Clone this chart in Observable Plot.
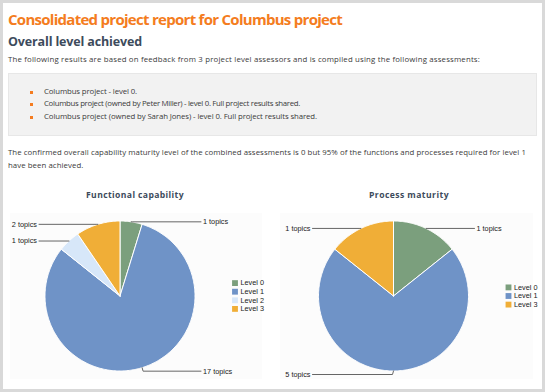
<!DOCTYPE html>
<html>
<head>
<meta charset="utf-8">
<script src="https://cdn.jsdelivr.net/npm/d3@7"></script>
<script src="https://cdn.jsdelivr.net/npm/@observablehq/plot@0.6"></script>
<style>
  html, body { margin: 0; padding: 0; }
  body { width: 545px; height: 392px; background: #d9d9d9; position: relative; overflow: hidden; font-family: "Open Sans", sans-serif; }
  #page { position: absolute; left: 3px; top: 3px; width: 539px; height: 386px; background: #fff; }
  .t { position: absolute; white-space: nowrap; line-height: 1; display: inline-block; }
  #box { position: absolute; left: 8px; top: 73px; width: 527px; height: 61px; background: #f2f2f2; border: 1px solid #e7e7e7; }
  .bullet { position: absolute; width: 3px; height: 3px; background: #f47c20; }
  .chart { position: absolute; }
  .chart svg { overflow: visible; }
</style>
</head>
<body>
<div id="page"></div>
<div id="box"></div>
<div id="root"></div>
<script>
// ---------- data ----------
const pageTitle = "Consolidated project report for Columbus project";
const sectionTitle = "Overall level achieved";
const introText = "The following results are based on feedback from 3 project level assessors and is compiled using the following assessments:";
const assessments = [
  "Columbus project - level 0.",
  "Columbus project (owned by Peter Miller) - level 0. Full project results shared.",
  "Columbus project (owned by Sarah Jones) - level 0. Full project results shared."
];
const summaryLines = [
  "The confirmed overall capability maturity level of the combined assessments is 0 but 95% of the functions and processes required for level 1",
  "have been achieved."
];
const levels = ["Level 0", "Level 1", "Level 2", "Level 3"];
const levelColors = ["#7b9f7d", "#6f93c7", "#d7e7f9", "#f0ae37"];
const chartTitles = ["Functional capability", "Process maturity"];
const functionalLevels = ["Level 0", "Level 1", "Level 2", "Level 3"];
const functionalTopics = [1, 17, 1, 2];
const processLevels = ["Level 0", "Level 1", "Level 3"];
const processTopics = [1, 5, 1];
const topicSuffix = " topics";

// ---------- text layout ----------
const root = document.getElementById("root");
function addText(txt, opts) {
  const el = document.createElement("div");
  el.className = "t";
  el.textContent = txt;
  el.style.left = opts.x + "px";
  el.style.top = (opts.baseline - 0.888 * opts.fs) + "px";
  el.style.fontSize = opts.fs + "px";
  el.style.fontWeight = opts.bold ? "700" : "400";
  el.style.color = opts.color;
  root.appendChild(el);
  if (opts.w) {
    const w = el.getBoundingClientRect().width;
    el.style.letterSpacing = ((opts.w - w) / txt.length) + "px";
  }
  if (opts.ls != null) el.style.letterSpacing = opts.ls + "px";
  if (opts.center != null) {
    const w = el.getBoundingClientRect().width;
    el.style.left = (opts.center - w / 2) + "px";
  }
  return el;
}
addText(pageTitle, {x: 8, baseline: 25.7, fs: 15, bold: true, color: "#f47c20", w: 334});
addText(sectionTitle, {x: 8, baseline: 47, fs: 12.5, bold: true, color: "#3d4b5c", w: 134});
addText(introText, {x: 8, baseline: 62.5, fs: 7.8, color: "#3a3a3a", w: 472});
const bulletBase = [94.6, 107.2, 119.8];
const bulletW = [93, 256, 273];
assessments.forEach((a, i) => {
  const b = document.createElement("div");
  b.className = "bullet";
  b.style.left = "30px";
  b.style.top = (bulletBase[i] - 4) + "px";
  root.appendChild(b);
  addText(a, {x: 44, baseline: bulletBase[i], fs: 7.8, color: "#3a3a3a", w: bulletW[i]});
});
const l1 = addText(summaryLines[0], {x: 8, baseline: 155.7, fs: 7.8, color: "#3a3a3a", w: 518});
addText(summaryLines[1], {x: 8, baseline: 168.5, fs: 7.8, color: "#3a3a3a", ls: parseFloat(l1.style.letterSpacing)});
addText(chartTitles[0], {x: 0, baseline: 199, fs: 8.6, bold: true, color: "#3d4b5c", w: 98, center: 135});
addText(chartTitles[1], {x: 0, baseline: 199, fs: 8.6, bold: true, color: "#3d4b5c", w: 80, center: 409});

// ---------- pies ----------
function pieChart(lvls, values, cfg) {
  const {width, height, cx, cy, r, bgWidth} = cfg;
  const arcs = d3.pie().sort(null).value(d => d.value)(lvls.map((l, i) => ({level: l, value: values[i]})));
  const slicePts = [];
  const leaderPts = [];
  const labels = [];
  arcs.forEach((a, idx) => {
    const lvl = a.data.level;
    slicePts.push({level: lvl, x: cx, y: cy});
    const n = Math.max(2, Math.ceil((a.endAngle - a.startAngle) / (Math.PI / 180)));
    for (let k = 0; k <= n; k++) {
      const t = a.startAngle + (a.endAngle - a.startAngle) * k / n;
      slicePts.push({level: lvl, x: cx + r * Math.sin(t), y: cy - r * Math.cos(t)});
    }
    slicePts.push({level: lvl, x: cx, y: cy});
    const m = (a.startAngle + a.endAngle) / 2;
    const ex = cx + r * Math.sin(m), ey = cy - r * Math.cos(m);
    const right = Math.sin(m) > 1e-6;
    const dir = right ? 1 : -1;
    const ly = ey + (Math.cos(m) < 0 ? 3.5 : 0);
    leaderPts.push({id: idx, x: ex, y: ey}, {id: idx, x: ex + dir * 1, y: ly}, {id: idx, x: cx + dir * 81, y: ly});
    labels.push({x: cx + dir * 83, y: ly, text: a.data.value + topicSuffix, right});
  });
  const legend = lvls.map((l, i) => ({level: l, y: cy + (i - (lvls.length - 1) / 2) * 8.6}));
  return Plot.plot({
    width, height, margin: 0,
    x: {domain: [0, width], range: [0, width], axis: null},
    y: {domain: [0, height], range: [0, height], axis: null},
    color: {domain: levels, range: levelColors},
    style: {background: "transparent", fontFamily: "'Liberation Sans', Arial, sans-serif", overflow: "visible"},
    marks: [
      Plot.rect([{x1: 0, x2: bgWidth, y1: 0, y2: height}], {x1: "x1", x2: "x2", y1: "y1", y2: "y2", fill: "#fcfcfc"}),
      Plot.line(slicePts, {x: "x", y: "y", z: "level", fill: "level", stroke: "white", strokeWidth: 1, strokeLinejoin: "round"}),
      Plot.line(leaderPts, {x: "x", y: "y", z: "id", stroke: "#666", strokeWidth: 1}),
      Plot.text(labels.filter(d => d.right), {x: "x", y: "y", text: "text", textAnchor: "start", fontSize: 7.3, fill: "#222"}),
      Plot.text(labels.filter(d => !d.right), {x: "x", y: "y", text: "text", textAnchor: "end", fontSize: 7.3, fill: "#222"}),
      Plot.dot(legend, {x: () => cx + 115, y: "y", fill: "level", symbol: "square", r: 3.3}),
      Plot.text(legend, {x: () => cx + 120.5, y: "y", text: "level", textAnchor: "start", fontSize: 7.3, fill: "#222"})
    ]
  });
}
function place(svg, left, top) {
  const d = document.createElement("div");
  d.className = "chart";
  d.style.left = left + "px";
  d.style.top = top + "px";
  d.appendChild(svg);
  root.appendChild(d);
}
place(pieChart(functionalLevels, functionalTopics, {width: 262, height: 166, bgWidth: 252, cx: 109.5, cy: 82.5, r: 75}), 10, 213);
place(pieChart(processLevels, processTopics, {width: 260, height: 166, bgWidth: 253, cx: 113, cy: 82.5, r: 75}), 280, 213);
</script>
</body>
</html>
